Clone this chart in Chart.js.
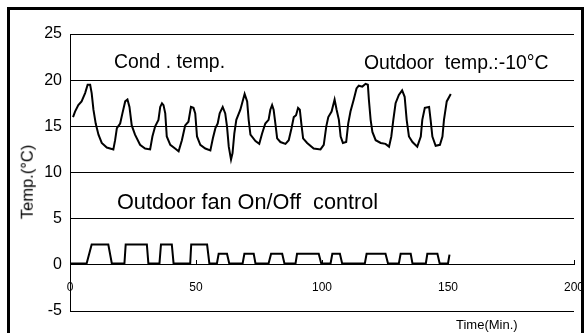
<!DOCTYPE html>
<html>
<head>
<meta charset="utf-8">
<script src="https://cdn.jsdelivr.net/npm/chart.js@4/dist/chart.umd.min.js"></script>
<style>
  html, body { margin: 0; padding: 0; background: #fff; overflow: hidden; }
  body { width: 584px; height: 333px; position: relative; font-family: "Liberation Sans", Arial, sans-serif; color: #000; }
  #chart { position: absolute; left: 0; top: 0; }
  .lbl { position: absolute; line-height: 1; white-space: pre; color: #000; }
  #frame { position: absolute; left: 7px; top: 7px; width: 577px; height: 340px; border: 3px solid #000; box-sizing: border-box; pointer-events: none; }
</style>
</head>
<body>
<canvas id="chart" width="584" height="333"></canvas>
<div class="lbl" style="left:114px; top:52px; font-size:19.4px;">Cond . temp.</div>
<div class="lbl" style="left:364px; top:53px; font-size:19.4px;">Outdoor  temp.:-10°C</div>
<div class="lbl" style="left:117px; top:191px; font-size:21.7px;">Outdoor fan On/Off  control</div>
<div class="lbl" style="left:27px; top:182px; font-size:16.5px; transform: translate(-50%, -50%) rotate(-90deg);">Temp.(°C)</div>
<div class="lbl" style="left:456px; top:318px; font-size:13px;">Time(Min.)</div>
<div id="frame"></div>
<script>
// ===== Cond. temp & outdoor fan on/off vs time =====

// condenser temperature (°C) over time (min)
const condTime = [1.2, 2.0, 3.3, 4.6, 6.0, 7.0, 8.0, 8.6, 9.3, 10.2, 11.3, 12.6, 14.6, 17.2, 17.9, 18.6, 19.9, 20.8, 21.9, 22.8,
  23.6, 24.5, 25.8, 27.8, 29.8, 31.8, 32.7, 33.8, 35.1, 35.8, 36.5, 37.1, 37.8, 38.4, 39.8, 41.7, 43.1, 44.4, 45.7, 47.0,
  48.0, 49.0, 49.7, 50.4, 51.7, 53.7, 55.7, 56.7, 57.7, 58.6, 59.4, 60.6, 61.6, 62.3, 63.0, 63.9, 64.5, 65.2, 66.0, 67.6,
  68.7, 69.3, 70.3, 70.9, 71.6, 73.6, 75.1, 76.2, 77.5, 78.8, 79.5, 80.2, 80.8, 81.5, 82.2, 83.5, 85.5, 86.8, 87.9, 88.8,
  89.7, 90.5, 91.2, 91.8, 92.5, 94.1, 96.7, 99.4, 100.7, 101.7, 102.5, 103.8, 105.0, 105.8, 106.7, 107.4, 108.3, 109.6, 110.4, 111.3,
  112.6, 113.7, 114.6, 116.0, 117.3, 118.2, 118.6, 119.3, 120.0, 121.3, 123.3, 125.2, 126.6, 127.5, 128.3, 129.2, 130.5, 131.8, 132.8, 133.6,
  134.5, 135.9, 137.8, 139.2, 139.8, 140.8, 142.5, 143.1, 143.8, 145.1, 146.8, 147.8, 148.4, 149.5, 151.1];
const condTemp = [16.0, 16.6, 17.3, 17.7, 18.6, 19.5, 19.5, 18.6, 16.8, 15.3, 14.1, 13.2, 12.7, 12.5, 13.5, 14.8, 15.3, 16.4, 17.7, 17.9,
  17.1, 15.1, 14.1, 13.0, 12.6, 12.5, 13.9, 15.0, 15.7, 17.1, 17.5, 17.3, 16.4, 13.9, 13.0, 12.6, 12.3, 13.5, 15.1, 15.5,
  17.1, 17.0, 16.4, 13.9, 13.0, 12.6, 12.4, 13.7, 14.8, 15.3, 16.4, 17.1, 16.4, 15.0, 12.8, 11.4, 12.1, 14.2, 15.7, 16.8,
  17.9, 18.5, 17.7, 15.7, 14.1, 13.4, 13.1, 14.2, 15.3, 15.7, 16.8, 17.3, 16.8, 15.3, 13.7, 13.3, 13.1, 13.5, 14.8, 16.0,
  16.2, 17.0, 16.8, 15.3, 13.7, 13.2, 12.6, 12.5, 13.0, 15.0, 16.0, 16.6, 17.9, 16.8, 15.7, 13.9, 13.2, 13.3, 15.3, 16.6,
  17.9, 19.1, 19.4, 19.3, 19.6, 19.5, 17.9, 15.7, 14.4, 13.5, 13.2, 13.1, 12.8, 13.9, 15.7, 17.5, 18.4, 18.9, 18.2, 15.7,
  13.9, 13.3, 12.8, 13.9, 15.7, 17.0, 17.1, 15.7, 13.9, 12.9, 13.0, 13.9, 15.7, 17.7, 18.5];

// outdoor fan on/off trace
const fanTime = [0, 6.6, 8.6, 15.2, 16.6, 21.6, 22.1, 30.5, 31.1, 35.5, 36.1, 40.4, 41.1, 47.7, 48.1, 54.4, 55.3,
  58.3, 59.0, 62.3, 63.2, 68.5, 69.2, 72.9, 73.6, 78.8, 79.8, 84.2, 85.1, 89.5, 90.1, 98.7, 99.7,
  103.4, 104.1, 107.1, 108.0, 117.0, 117.7, 125.2, 126.2, 130.5, 131.2, 135.2, 135.9, 141.2, 141.8, 145.8, 146.7, 150.0, 150.6];
const fanLevel = [0.15, 0.15, 2.2, 2.2, 0.15, 0.15, 2.2, 2.2, 0.15, 0.15, 2.2, 2.2, 0.15, 0.15, 2.2, 2.2, 0.15,
  0.15, 1.2, 1.2, 0.15, 0.15, 1.2, 1.2, 0.15, 0.15, 1.2, 1.2, 0.15, 0.15, 1.2, 1.2, 0.15,
  0.15, 1.2, 1.2, 0.15, 0.15, 1.2, 1.2, 0.15, 0.15, 1.2, 1.2, 0.15, 0.15, 1.2, 1.2, 0.15, 0.15, 1.1];

const xTicks = [0, 50, 100, 150, 200];
const yTicks = [-5, 0, 5, 10, 15, 20, 25];

const toPoints = (xs, ys) => xs.map((x, i) => ({ x: x, y: ys[i] }));

Chart.defaults.font.family = '"Liberation Sans", Arial, sans-serif';
Chart.defaults.color = '#000';

new Chart(document.getElementById('chart'), {
  type: 'line',
  data: {
    datasets: [
      { label: 'Cond. temp', data: toPoints(condTime, condTemp), borderColor: '#000', borderWidth: 2, pointRadius: 0, fill: false, tension: 0 },
      { label: 'Fan', data: toPoints(fanTime, fanLevel), borderColor: '#000', borderWidth: 2, pointRadius: 0, fill: false, tension: 0 }
    ]
  },
  options: {
    responsive: false, animation: false, devicePixelRatio: 1,
    layout: { padding: { left: 0, top: 34, right: 10, bottom: 22 } },
    plugins: { legend: { display: false }, tooltip: { enabled: false } },
    scales: {
      x: {
        type: 'linear', min: 0, max: 200,
        position: { y: 0 },
        afterBuildTicks: s => { s.ticks = xTicks.map(v => ({ value: v })); },
        // the labels hang well below the axis; keep that gap out of the side padding
        afterFit: s => { s.paddingLeft = 0; s.paddingRight = 0; },
        ticks: { font: { size: 12 }, padding: 21, maxRotation: 0 },
        grid: { display: true, drawOnChartArea: false, drawTicks: true, tickLength: -5, color: '#000' },
        border: { display: true, color: '#000', width: 1 }
      },
      y: {
        min: -5, max: 25,
        afterBuildTicks: s => { s.ticks = yTicks.map(v => ({ value: v })); },
        afterFit: s => { s.width = 70; },
        ticks: { font: { size: 16 }, padding: 8 },
        grid: { color: '#000', lineWidth: 1, drawTicks: false },
        border: { display: true, color: '#000', width: 1 }
      }
    }
  }
});
</script>
</body>
</html>
